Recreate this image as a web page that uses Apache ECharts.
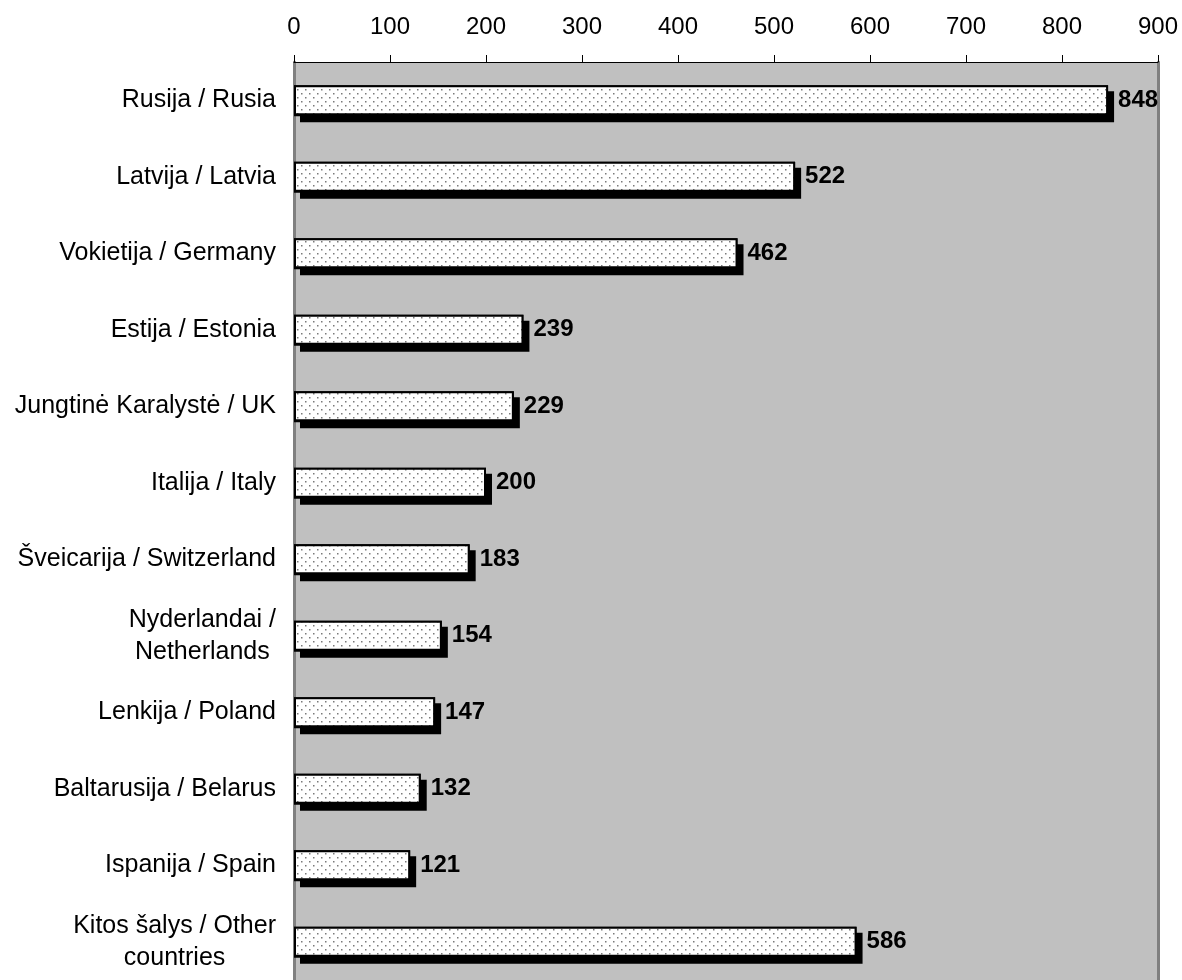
<!DOCTYPE html>
<html>
<head>
<meta charset="utf-8">
<script src="https://cdn.jsdelivr.net/npm/echarts@6/dist/echarts.min.js"></script>
<style>
html,body{margin:0;padding:0;background:#fff;}
#chart{width:1182px;height:980px;}
</style>
</head>
<body>
<div id="chart"></div>
<script>
const categories = [
  'Rusija / Rusia',
  'Latvija / Latvia',
  'Vokietija / Germany',
  'Estija / Estonia',
  'Jungtinė Karalystė / UK',
  'Italija / Italy',
  'Šveicarija / Switzerland',
  'Nyderlandai /\nNetherlands',
  'Lenkija / Poland',
  'Baltarusija / Belarus',
  'Ispanija / Spain',
  'Kitos šalys / Other\ncountries'
];
const values = [848, 522, 462, 239, 229, 200, 183, 154, 147, 132, 121, 586];
const xTicks = [0, 100, 200, 300, 400, 500, 600, 700, 800, 900];

// dotted fill pattern
const pat = document.createElement('canvas');
pat.width = 8; pat.height = 8;
const pc = pat.getContext('2d');
pc.fillStyle = '#ffffff';
pc.fillRect(0, 0, 8, 8);
pc.fillStyle = '#7a7a7a';
pc.fillRect(1, 1, 1.5, 1.5);
pc.fillRect(5, 5, 1.5, 1.5);

const chart = echarts.init(document.getElementById('chart'));
const font = '"Liberation Sans", Arial, sans-serif';
chart.setOption({
  animation: false,
  grid: {
    left: 294, width: 864, top: 62, height: 924,
    show: true, backgroundColor: '#C0C0C0', borderWidth: 0
  },
  xAxis: {
    type: 'value', position: 'top',
    min: xTicks[0], max: xTicks[xTicks.length - 1], interval: 100,
    axisLine: { show: true, lineStyle: { color: '#000', width: 1 } },
    axisTick: { show: true, length: 7, lineStyle: { color: '#000', width: 1 } },
    splitLine: { show: false },
    axisLabel: { fontFamily: font, fontSize: 24, color: '#000', margin: 23 }
  },
  yAxis: [{
    type: 'category', inverse: true, data: categories,
    axisLine: { show: true, onZero: false, lineStyle: { color: '#808080', width: 3 } },
    axisTick: { show: false },
    axisLabel: {
      margin: 18, fontFamily: font, fontSize: 25, color: '#000',
      formatter: v => v.split('\n').map(s => '{c|' + s + '}').join('\n'),
      rich: { c: { fontFamily: font, fontSize: 25, color: '#000', align: 'center', lineHeight: 32 } }
    }
  }, {
    type: 'category', inverse: true, data: categories, position: 'right',
    axisLine: { show: true, onZero: false, lineStyle: { color: '#808080', width: 3 } },
    axisTick: { show: false }, axisLabel: { show: false }
  }],
  series: [{
    // shadow layer
    type: 'bar', data: values, barWidth: 31, yAxisIndex: 0, silent: true,
    itemStyle: {
      color: '#000', borderWidth: 0,
      shadowColor: '#000', shadowBlur: 0, shadowOffsetX: 6, shadowOffsetY: 6
    },
    label: { show: false }
  }, {
    type: 'bar', data: values, barWidth: 30, yAxisIndex: 0, barGap: '-100%',
    itemStyle: {
      color: { image: pat, repeat: 'repeat' },
      borderColor: '#000', borderWidth: 2
    },
    label: {
      show: true, position: 'right', distance: 10,
      fontFamily: font, fontSize: 24, fontWeight: 'bold', color: '#000'
    }
  }]
});
</script>
</body>
</html>
